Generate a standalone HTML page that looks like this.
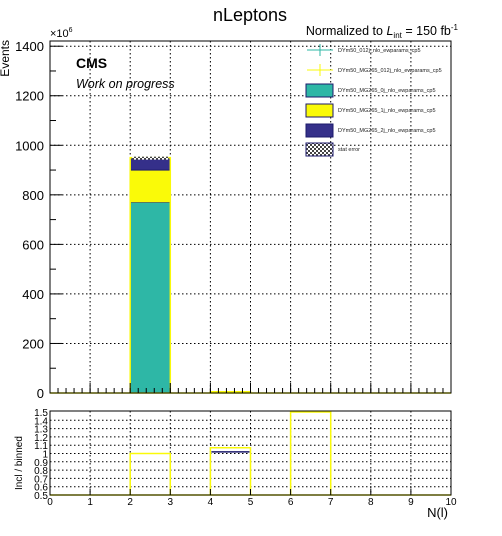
<!DOCTYPE html>
<html><head><meta charset="utf-8"><style>
body{margin:0;background:#fff;}
svg{display:block;font-family:"Liberation Sans",sans-serif;}
</style></head><body>
<svg id="c" width="502" height="536" viewBox="0 0 502 536" xmlns="http://www.w3.org/2000/svg">
<defs><pattern id="hatch" width="4" height="4" patternUnits="userSpaceOnUse"><rect width="4" height="4" fill="#444"/><rect width="2" height="2" fill="#fff"/><rect x="2" y="2" width="2" height="2" fill="#fff"/></pattern></defs>
<text x="250" y="21" font-size="18" text-anchor="middle">nLeptons</text>
<text x="458" y="35" font-size="12.5" text-anchor="end">Normalized to <tspan font-style="italic">L</tspan><tspan font-size="8" dy="3">int</tspan><tspan dy="-3"> = 150 fb</tspan><tspan font-size="8" dy="-5">-1</tspan></text>
<text transform="translate(9,40) rotate(-90)" font-size="12" text-anchor="end">Events</text>
<text x="50" y="37" font-size="11">×10<tspan font-size="7" dy="-5">6</tspan></text>
<text x="76" y="68" font-size="14" font-weight="bold">CMS</text>
<text x="76" y="88" font-size="12.5" font-style="italic">Work on progress</text>
<text transform="translate(22,490) rotate(-90)" font-size="10">Incl / binned</text>
<text x="448" y="517" font-size="13" text-anchor="end">N(l)</text>
<g id="main"></g><g id="ratio"></g><g id="legend"></g>
</svg>
<script>
const binEdges=[0,1,2,3,4,5,6,7,8,9,10];
const teal=[0,0,770,0,3,0,0,0,0,0];
const yellowS=[0,0,130,0,2,0,0,0,0,0];
const blueS=[0,0,50,0,0,0,0,0,0,0];
const mainTicks=[0,200,400,600,800,1000,1200,1400];
const ratioYellow=[null,null,1.0,null,1.07,null,1.5,null,null,null];
const ratioBlue=[null,null,null,null,1.02,null,null,null,null,null];
const ratioTicks=[0.5,0.6,0.7,0.8,0.9,1,1.1,1.2,1.3,1.4,1.5];
const xTicks=[0,1,2,3,4,5,6,7,8,9,10];
const legendLabels=["DYm50_012j_nlo_ewparams_cp5","DYm50_MG265_012j_nlo_ewparams_cp5","DYm50_MG265_0j_nlo_ewparams_cp5","DYm50_MG265_1j_nlo_ewparams_cp5","DYm50_MG265_2j_nlo_ewparams_cp5","stat error"];
const NS="http://www.w3.org/2000/svg";
const X0=50,X1=451;
const xs=v=>X0+(v-0)/10*(X1-X0);
const MT=41,MB=393,YMAX=1421;
const ym=v=>MB-v/YMAX*(MB-MT);
const RT=411,RB=495;
const yr=v=>RB-(v-0.5)/1.0*(RB-412);
function el(p,t,a){const e=document.createElementNS(NS,t);for(const k in a)e.setAttribute(k,a[k]);p.appendChild(e);return e;}
const M=document.getElementById('main'),R=document.getElementById('ratio'),L=document.getElementById('legend');
xTicks.forEach((t,i)=>{if(i>0&&i<10){
 let g=el(M,'line',{x1:xs(t),x2:xs(t),y1:MT,y2:MB,stroke:'#000','stroke-dasharray':'1.5,2.5','stroke-width':1});
 
 let h=el(R,'line',{x1:xs(t),x2:xs(t),y1:RT,y2:RB,stroke:'#000','stroke-dasharray':'1.5,2.5','stroke-width':1});
 }});
mainTicks.forEach(t=>{
 if(t>0){let g=el(M,'line',{x1:X0,x2:X1,y1:ym(t),y2:ym(t),stroke:'#000','stroke-dasharray':'1.5,2.5'});
 }
 let k=el(M,'line',{x1:X0,x2:X0+12,y1:ym(t),y2:ym(t),stroke:'#000'});
 
 let tx=el(M,'text',{x:X0-6,y:ym(t)+5,'font-size':13,'text-anchor':'end'});tx.textContent=t;
 
});
for(let v=100;v<1421;v+=200){let k=el(M,'line',{x1:X0,x2:X0+6,y1:ym(v),y2:ym(v),stroke:'#000'});
 }
ratioTicks.forEach((t,i)=>{
 if(i>0&&i<10){let g=el(R,'line',{x1:X0,x2:X1,y1:yr(t),y2:yr(t),stroke:'#000','stroke-dasharray':'1.5,2.5'});
 }
 let tx=el(R,'text',{x:X0-2,y:yr(t)+4,'font-size':10,'text-anchor':'end'});tx.textContent=t;
 
});
binEdges.slice(0,-1).forEach((e,i)=>{
 const a=xs(e),w=xs(binEdges[i+1])-a;
 const layers=[[0,teal[i],'#2eb7a6','teal'],[teal[i],teal[i]+yellowS[i],'#fafa08','yellow'],[teal[i]+yellowS[i],teal[i]+yellowS[i]+blueS[i],'#35308a','blue']];
 layers.forEach(([lo,hi,c,n])=>{if(hi>lo){
  let r=el(M,'rect',{x:a,y:ym(hi),width:w,height:ym(lo)-ym(hi),fill:c,stroke:n==='yellow'?'#fafa08':'#1c1a6b','stroke-width':n==='yellow'?0:1});
  }});
 const tot=teal[i]+yellowS[i]+blueS[i];
 if(tot>0){let o=el(M,'path',{d:`M${a},${MB}V${ym(tot)}H${a+w}V${MB}`,fill:'none',stroke:'#fafa08','stroke-width':1.5});
  }
 if(tot>100){let s=el(M,'rect',{x:a+2,y:ym(tot)-1,width:w-4,height:3,fill:'url(#hatch)'});
  }
});
let bl=el(M,'line',{x1:X0,x2:X1,y1:MB,y2:MB,stroke:'#fafa08','stroke-width':1.5});

xTicks.forEach(t=>{let k=el(M,'line',{x1:xs(t),x2:xs(t),y1:MB,y2:MB-10,stroke:'#000'});
 });
for(let v=0.2;v<10;v+=0.2){let k=el(M,'line',{x1:xs(v),x2:xs(v),y1:MB,y2:MB-5,stroke:'#000'});
 }
let mf=el(M,'rect',{x:X0,y:MT,width:X1-X0,height:MB-MT,fill:'none',stroke:'#000'});

function ratioHist(arr,color,name){binEdges.slice(0,-1).forEach((e,i)=>{const v=arr[i];if(v===null)return;
 const a=xs(e),b=xs(binEdges[i+1]);
 let p=el(R,'path',{d:`M${a},${RB}V${yr(v)}H${b}V${RB}`,fill:'none',stroke:color,'stroke-width':1.5});
 });}
ratioHist(ratioYellow,'#fafa08','yellow');
binEdges.slice(0,-1).forEach((e,i)=>{const v=ratioBlue[i];if(v===null)return;
 let l=el(R,'line',{x1:xs(e)+1,x2:xs(binEdges[i+1])-1,y1:yr(v),y2:yr(v),stroke:'#1c1a6b','stroke-width':1.5});
 });
let rb=el(R,'line',{x1:X0,x2:X1,y1:RB,y2:RB,stroke:'#fafa08','stroke-width':1.5});

xTicks.forEach(t=>{let k=el(R,'line',{x1:xs(t),x2:xs(t),y1:RB,y2:RB-6,stroke:'#000'});
 
 let tx=el(R,'text',{x:xs(t),y:RB+10,'font-size':10,'text-anchor':'middle'});tx.textContent=t;
 });
let rf=el(R,'rect',{x:X0,y:RT,width:X1-X0,height:RB-RT,fill:'none',stroke:'#000'});

const legY=[50,70,90,110,130,149];
legendLabels.forEach((lab,i)=>{const y=legY[i];const g=el(L,'g',{});
 
 if(i<2){const c=i===0?'#2eb7a6':'#fafa08';
  el(g,'line',{x1:307,x2:333,y1:y,y2:y,stroke:c,'stroke-width':1});
  el(g,'line',{x1:320,x2:320,y1:y-6,y2:y+6,stroke:c,'stroke-width':1});}
 else{const f=['#2eb7a6','#fafa08','#35308a','url(#hatch)'][i-2];
  el(g,'rect',{x:306,y:y-6,width:27,height:13,fill:f,stroke:'#1c1a6b','stroke-width':1});}
 const t=el(g,'text',{x:338,y:y+2,'font-size':5.5,fill:'#222'});t.textContent=lab;});
</script>
</body></html>
